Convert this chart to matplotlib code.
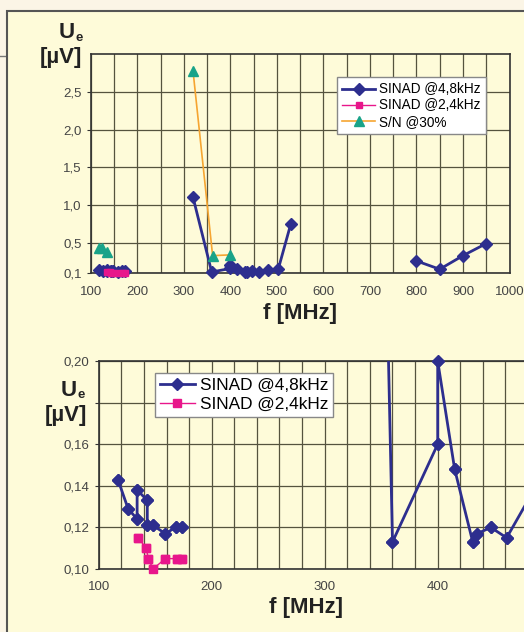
import matplotlib.pyplot as plt
import matplotlib.ticker as mticker
from matplotlib.patches import Rectangle
from matplotlib.lines import Line2D
import numpy as np

plt.rcParams['font.family'] = ['Liberation Sans', 'DejaVu Sans']

W, H = 524, 632

# SINAD @4,8kHz  (NaN = gap in the curve)
f_48 = [117, 126, 134, 134, 143, 143, 148, 159, 168, 174, np.nan,
        320, 360, 400, 400, 415, 431, 435, 447, 461, 482, 503, 530, np.nan,
        800, 850, 900, 950]
u_48 = [0.143, 0.129, 0.124, 0.138, 0.133, 0.121, 0.121, 0.117, 0.120, 0.120, np.nan,
        1.10, 0.113, 0.160, 0.200, 0.148, 0.113, 0.117, 0.120, 0.115, 0.135, 0.15, 0.75, np.nan,
        0.26, 0.15, 0.33, 0.49]

# SINAD @2,4kHz
f_24 = [135, 142, 144, 148, 159, 169, 174]
u_24 = [0.115, 0.110, 0.105, 0.100, 0.105, 0.105, 0.105]

# S/N @30%
f_sn = [117, 125, 135, np.nan, 320, 362, 400]
u_sn = [0.43, 0.43, 0.38, np.nan, 2.77, 0.33, 0.34]

top_xticks = [100, 200, 300, 400, 500, 600, 700, 800, 900, 1000]
top_yticks = [0.1, 0.5, 1.0, 1.5, 2.0, 2.5]
top_ylabels = ['0,1', '0,5', '1,0', '1,5', '2,0', '2,5']
bot_xticks = [100, 200, 300, 400]
bot_yticks = [0.10, 0.12, 0.14, 0.16, 0.18, 0.20]
bot_ylabels = ['0,10', '0,12', '0,14', '0,16', '', '0,20']

BLUE = '#2d2e8e'
PINK = '#e8168b'
ORANGE = '#f6a531'
TEAL = '#19a389'
GRID = '#55533e'
PANEL = '#fefbd9'
TICKC = '#444444'

fig = plt.figure(figsize=(W / 100, H / 100), dpi=100, facecolor='#fbf5e6')

# framed panel behind both charts
fig.patches.append(Rectangle((7 / W, -0.1), 1.2, 1.1 - 11 / H, transform=fig.transFigure,
                             facecolor=PANEL, edgecolor='#555555', linewidth=1.5, zorder=-5))
fig.add_artist(Line2D([0, 7 / W], [1 - 56 / H, 1 - 56 / H], transform=fig.transFigure,
                      color='#777777', linewidth=1, zorder=-5))


def px_axes(l, t, r, b):
    return fig.add_axes([l / W, 1 - b / H, (r - l) / W, (b - t) / H])


def style_axes(ax):
    ax.set_facecolor(PANEL)
    for s in ax.spines.values():
        s.set_color('#333333')
        s.set_linewidth(1.2)
    ax.grid(True, which='both', color=GRID, linewidth=0.9)
    ax.set_axisbelow(True)
    ax.tick_params(axis='both', which='major', labelsize=9.5, labelcolor=TICKC,
                   color='#333333', length=3)
    ax.tick_params(axis='x', which='major', length=0, pad=9)
    ax.tick_params(which='minor', length=0)


# ---------- top chart ----------
ax1 = px_axes(90.7, 54, 509.5, 273)
style_axes(ax1)
ax1.plot(f_48, u_48, color=BLUE, linewidth=2, marker='D', markersize=6,
         label='SINAD @4,8kHz', clip_on=False, zorder=3)
ax1.plot(f_24, u_24, color=PINK, linewidth=1, marker='s', markersize=5,
         label='SINAD @2,4kHz', clip_on=False, zorder=4)
ax1.plot(f_sn, u_sn, color=ORANGE, linewidth=1.2, marker='^', markersize=7.5,
         markerfacecolor=TEAL, markeredgecolor=TEAL, label='S/N @30%', clip_on=False, zorder=3)
ax1.set_xlim(100, 1000)
ax1.set_ylim(0.1, 3.0)
ax1.set_xticks(top_xticks)
ax1.xaxis.set_minor_locator(mticker.MultipleLocator(50))
ax1.set_yticks(top_yticks)
ax1.set_yticklabels(top_ylabels)
ax1.set_xlabel('f [MHz]', fontsize=16, fontweight='bold', labelpad=4, color='#222222')
ax1.legend(loc='upper left', bbox_to_anchor=(337 / W, 1 - 77 / H), bbox_transform=fig.transFigure,
           fontsize=9.8, frameon=True, fancybox=False, edgecolor='#888888', framealpha=1,
           handlelength=2.4, handletextpad=0.3, labelspacing=0.15, borderpad=0.4,
           borderaxespad=0)

# ---------- bottom chart ----------
ax2 = px_axes(98.7, 361, 618.5, 569)
style_axes(ax2)
ax2.spines['right'].set_visible(False)
lo, hi = 0.10, 0.20
ax2.plot(f_48, u_48, color=BLUE, linewidth=2, marker='D', markersize=6.5,
         label='SINAD @4,8kHz', zorder=3)
ax2.plot(f_24, u_24, color=PINK, linewidth=1, marker='s', markersize=6,
         label='SINAD @2,4kHz', zorder=4)
# markers on the frame edge drawn unclipped
in48 = np.array(u_48, dtype=float)
in48 = np.where((in48 >= lo) & (in48 <= hi + 1e-9), in48, np.nan)
ax2.plot(f_48, in48, linestyle='none', color=BLUE, marker='D', markersize=6.5,
         clip_on=False, zorder=3)
ax2.plot(f_24, u_24, linestyle='none', color=PINK, marker='s', markersize=6,
         clip_on=False, zorder=4)
ax2.set_xlim(100, 560)
ax2.set_ylim(lo, hi)
ax2.set_xticks(bot_xticks)
ax2.xaxis.set_minor_locator(mticker.MultipleLocator(20))
ax2.set_yticks(bot_yticks)
ax2.set_yticklabels(bot_ylabels)
ax2.legend(loc='upper left', bbox_to_anchor=(155 / W, 1 - 373 / H), bbox_transform=fig.transFigure,
           fontsize=12.4, frameon=True, fancybox=False, edgecolor='#888888', framealpha=1,
           handlelength=2.0, handletextpad=0.3, labelspacing=0.2, borderpad=0.3,
           borderaxespad=0)

# centred x label for bottom chart (axes runs past the figure edge)
fig.text(306 / W, 1 - 607 / H, 'f [MHz]', fontsize=16, fontweight='bold',
         ha='center', va='center', color='#222222')

# y-axis unit labels
for ux, uy, bx, by in [(75, 33, 61, 58), (77, 390, 66, 415)]:
    fig.text(ux / W, 1 - uy / H, 'U', fontsize=16, fontweight='bold', ha='right',
             va='center', color='#222222')
    fig.text((ux + 1) / W, 1 - (uy + 5) / H, 'e', fontsize=9.5, fontweight='bold',
             ha='left', va='center', color='#222222')
    fig.text(bx / W, 1 - by / H, '[µV]', fontsize=16, fontweight='bold', ha='center',
             va='center', color='#222222')

fig.savefig('out.png', dpi=100, facecolor=fig.get_facecolor())
